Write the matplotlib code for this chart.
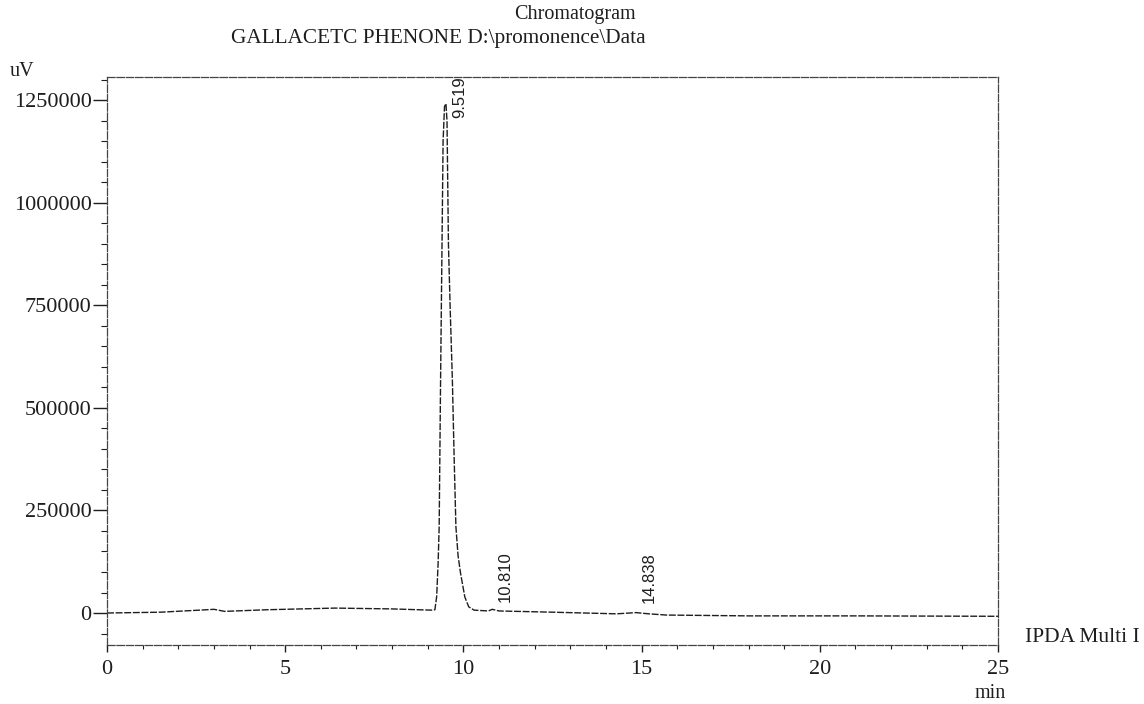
import matplotlib
matplotlib.use("Agg")
import matplotlib.pyplot as plt
from matplotlib.ticker import MultipleLocator, FuncFormatter

# ---------------- data ----------------
time_min = [0.0, 1.5, 2.6, 3.0, 3.3, 4.5, 6.4, 8.0, 9.1,
            9.20, 9.25, 9.29, 9.32, 9.36, 9.40, 9.43, 9.47, 9.51, 9.54,
            9.56, 9.58, 9.63, 9.69, 9.74, 9.79, 9.85, 9.92, 10.04, 10.15,
            10.30, 10.70, 10.81, 11.0, 12.5, 14.3, 14.84, 15.2, 15.7,
            18.0, 21.0, 25.0]
signal_uv = [0, 2000, 7000, 9000, 4000, 8000, 12000, 10000, 7000,
             8000, 40000, 120000, 210000, 570000, 900000, 1150000, 1235000,
             1242000, 1200000, 1050000, 900000, 740000, 570000, 380000,
             210000, 140000, 97000, 39000, 15000,
             7000, 5000, 9000, 5000, 2000, -2000, 1000, -2000, -5000,
             -7000, -7000, -8000]

peak_times = [9.519, 10.810, 14.838]
peak_labels = ["9.519", "10.810", "14.838"]
label_bottoms = [1207000, 27000, 24000]

y_ticks = [0, 250000, 500000, 750000, 1000000, 1250000]
x_ticks = [0, 5, 10, 15, 20, 25]

title_line1 = "Chromatogram"
title_line2 = "GALLACETC PHENONE D:\\promonence\\Data"
y_unit = "uV"
x_unit = "min"
channel_label = "IPDA Multi I"

# ---------------- style ----------------
W, H = 1144, 704
serif = ["Liberation Serif", "DejaVu Serif"]
sans = ["Liberation Sans", "DejaVu Sans"]
ink = "#1e1e1e"

fig = plt.figure(figsize=(W / 100, H / 100), dpi=100)
fig.patch.set_facecolor("white")

left_px, right_px, top_px, bottom_px = 107, 998, 77, 645
ax = fig.add_axes([left_px / W, 1 - bottom_px / H,
                   (right_px - left_px) / W, (bottom_px - top_px) / H])

ax.plot(time_min, signal_uv, color=ink, lw=1.0, linestyle=(0, (5, 1.2)))

ax.set_xlim(0, 25)
ax.set_ylim(-78000, 1307000)

ax.set_xticks(x_ticks)
ax.set_yticks(y_ticks)
ax.xaxis.set_minor_locator(MultipleLocator(1))
ax.yaxis.set_minor_locator(MultipleLocator(50000))
ax.yaxis.set_major_formatter(FuncFormatter(lambda v, p: f"{int(round(v))}"))
ax.xaxis.set_major_formatter(FuncFormatter(lambda v, p: f"{int(round(v))}"))

ax.tick_params(axis="y", which="major", direction="out", length=10, width=1.0,
               color=ink, pad=1, labelsize=16, labelcolor=ink)
ax.tick_params(axis="y", which="minor", direction="out", length=4, width=0.8,
               color=ink)
ax.tick_params(axis="x", which="major", direction="out", length=5, width=1.0,
               color=ink, pad=6, labelsize=16, labelcolor=ink)
ax.tick_params(axis="x", which="minor", direction="out", length=3, width=0.8,
               color=ink)
for lab in ax.get_xticklabels() + ax.get_yticklabels():
    lab.set_family(serif)

for name, sp in ax.spines.items():
    sp.set_color("#444444")
    sp.set_linewidth(0.9)
    sp.set_linestyle((0, (6, 1.5)))

for t, lab, yb in zip(peak_times, peak_labels, label_bottoms):
    ax.text(t + 0.37, yb, lab, rotation=90, ha="center", va="bottom",
            fontsize=12, family=sans, color=ink)

fig.text(575 / W, 1 - 15 / H, title_line1, ha="center", va="center",
         fontsize=14.5, family=serif, color=ink)
fig.text(438 / W, 1 - 38 / H, title_line2, ha="center", va="center",
         fontsize=15.3, family=serif, color=ink)
fig.text(10 / W, 1 - 72 / H, y_unit, ha="left", va="center",
         fontsize=14.5, family=serif, color=ink)
fig.text(990 / W, 1 - 693 / H, x_unit, ha="center", va="center",
         fontsize=14.5, family=serif, color=ink)
fig.text(1025 / W, 1 - 637 / H, channel_label, ha="left", va="center",
         fontsize=15.5, family=serif, color=ink)

fig.savefig("out.png", dpi=100, facecolor="white")
